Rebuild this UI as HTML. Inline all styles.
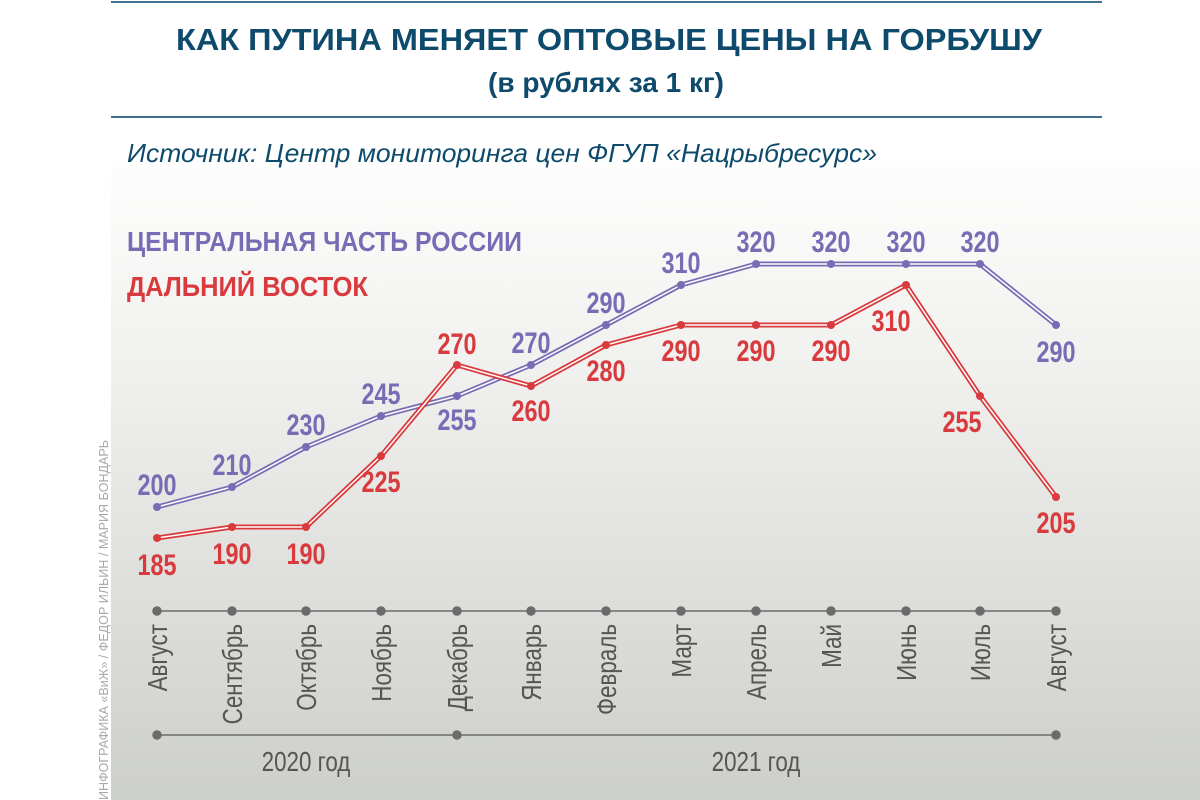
<!DOCTYPE html>
<html><head><meta charset="utf-8"><style>
body{margin:0;width:1200px;height:800px;overflow:hidden;background:#fff}
svg{display:block}
</style></head><body>
<svg width="1200" height="800" xmlns="http://www.w3.org/2000/svg">
<defs>
<linearGradient id="bg" x1="0" y1="0" x2="0" y2="1">
<stop offset="0" stop-color="#ffffff"/><stop offset="0.35" stop-color="#f0f0ee"/><stop offset="1" stop-color="#cdcfca"/>
</linearGradient>
</defs>
<rect x="0" y="0" width="1200" height="800" fill="#fff"/>
<rect x="111" y="140" width="1089" height="660" fill="url(#bg)"/>
<rect x="111" y="118" width="1089" height="50" fill="#fff" opacity="0.6"/>
<line x1="111" y1="2" x2="1102" y2="2" stroke="#3f7190" stroke-width="2"/>
<line x1="111" y1="117" x2="1102" y2="117" stroke="#3f7190" stroke-width="2"/>
<g font-family="Liberation Sans, sans-serif" font-weight="bold" fill="#0d4a6b" text-anchor="middle">
<text x="609" y="50" font-size="31" textLength="866" lengthAdjust="spacingAndGlyphs">КАК ПУТИНА МЕНЯЕТ ОПТОВЫЕ ЦЕНЫ НА ГОРБУШУ</text>
<text x="606" y="92" font-size="28">(в рублях за 1 кг)</text>
</g>
<text x="127" y="162" font-family="Liberation Sans, sans-serif" font-style="italic" font-size="26" fill="#0d4a6b" textLength="750" lengthAdjust="spacingAndGlyphs">Источник: Центр мониторинга цен ФГУП «Нацрыбресурс»</text>
<g font-family="Liberation Sans, sans-serif" font-weight="bold" font-size="28">
<text x="127" y="251" fill="#7a6bb5" textLength="395" lengthAdjust="spacingAndGlyphs">ЦЕНТРАЛЬНАЯ ЧАСТЬ РОССИИ</text>
<text x="127" y="296" fill="#d93a3d" textLength="241" lengthAdjust="spacingAndGlyphs">ДАЛЬНИЙ ВОСТОК</text>
</g>
<text transform="translate(108,800) rotate(-90)" font-family="Liberation Sans, sans-serif" font-size="13" fill="#aaa" textLength="360" lengthAdjust="spacingAndGlyphs">ИНФОГРАФИКА «ВиЖ» / ФЕДОР ИЛЬИН / МАРИЯ БОНДАРЬ</text>
<g stroke="#6b6b6b" stroke-width="1.5" fill="#6b6b6b">
<line x1="157" y1="611" x2="1056" y2="611"/>
<line x1="157" y1="735" x2="1056" y2="735"/>
<circle cx="157" cy="611" r="4"/><circle cx="232" cy="611" r="4"/><circle cx="306" cy="611" r="4"/><circle cx="381" cy="611" r="4"/><circle cx="457" cy="611" r="4"/><circle cx="531" cy="611" r="4"/><circle cx="606" cy="611" r="4"/><circle cx="681" cy="611" r="4"/><circle cx="756" cy="611" r="4"/><circle cx="831" cy="611" r="4"/><circle cx="906" cy="611" r="4"/><circle cx="980" cy="611" r="4"/><circle cx="1056" cy="611" r="4"/>
<circle cx="157" cy="735" r="4"/><circle cx="457" cy="735" r="4"/><circle cx="1056" cy="735" r="4"/>
</g>
<g font-family="Liberation Sans, sans-serif" font-size="28" fill="#555" text-anchor="end">
<text transform="translate(167,624) rotate(-90) scale(0.8,1)">Август</text>
<text transform="translate(242,624) rotate(-90) scale(0.8,1)">Сентябрь</text>
<text transform="translate(316,624) rotate(-90) scale(0.8,1)">Октябрь</text>
<text transform="translate(391,624) rotate(-90) scale(0.8,1)">Ноябрь</text>
<text transform="translate(467,624) rotate(-90) scale(0.8,1)">Декабрь</text>
<text transform="translate(541,624) rotate(-90) scale(0.8,1)">Январь</text>
<text transform="translate(616,624) rotate(-90) scale(0.8,1)">Февраль</text>
<text transform="translate(691,624) rotate(-90) scale(0.8,1)">Март</text>
<text transform="translate(766,624) rotate(-90) scale(0.8,1)">Апрель</text>
<text transform="translate(841,624) rotate(-90) scale(0.8,1)">Май</text>
<text transform="translate(916,624) rotate(-90) scale(0.8,1)">Июнь</text>
<text transform="translate(990,624) rotate(-90) scale(0.8,1)">Июль</text>
<text transform="translate(1066,624) rotate(-90) scale(0.8,1)">Август</text>
</g>
<g font-family="Liberation Sans, sans-serif" font-size="28" fill="#555" text-anchor="middle">
<text transform="translate(306,771) scale(0.8,1)">2020 год</text>
<text transform="translate(756,771) scale(0.8,1)">2021 год</text>
</g>
<polyline points="157,507 232,487 306,447 381,416 457,396 531,365 606,325 681,285 756,264 831,264 906,264 980,264 1056,325" fill="none" stroke="#7a6bb5" stroke-width="5" stroke-linejoin="round"/>
<polyline points="157,507 232,487 306,447 381,416 457,396 531,365 606,325 681,285 756,264 831,264 906,264 980,264 1056,325" fill="none" stroke="#fff" stroke-width="1.5" stroke-linejoin="round"/>
<g fill="#7a6bb5">
<circle cx="157" cy="507" r="4"/><circle cx="232" cy="487" r="4"/><circle cx="306" cy="447" r="4"/><circle cx="381" cy="416" r="4"/><circle cx="457" cy="396" r="4"/><circle cx="531" cy="365" r="4"/><circle cx="606" cy="325" r="4"/><circle cx="681" cy="285" r="4"/><circle cx="756" cy="264" r="4"/><circle cx="831" cy="264" r="4"/><circle cx="906" cy="264" r="4"/><circle cx="980" cy="264" r="4"/><circle cx="1056" cy="325" r="4"/>
</g>
<polyline points="157,538 232,527 306,527 381,456 457,365 531,386 606,345 681,325 756,325 831,325 906,285 980,396 1056,497" fill="none" stroke="#d93a3d" stroke-width="5" stroke-linejoin="round"/>
<polyline points="157,538 232,527 306,527 381,456 457,365 531,386 606,345 681,325 756,325 831,325 906,285 980,396 1056,497" fill="none" stroke="#fff" stroke-width="1.5" stroke-linejoin="round"/>
<g fill="#d93a3d">
<circle cx="157" cy="538" r="4"/><circle cx="232" cy="527" r="4"/><circle cx="306" cy="527" r="4"/><circle cx="381" cy="456" r="4"/><circle cx="457" cy="365" r="4"/><circle cx="531" cy="386" r="4"/><circle cx="606" cy="345" r="4"/><circle cx="681" cy="325" r="4"/><circle cx="756" cy="325" r="4"/><circle cx="831" cy="325" r="4"/><circle cx="906" cy="285" r="4"/><circle cx="980" cy="396" r="4"/><circle cx="1056" cy="497" r="4"/>
</g>
<g font-family="Liberation Sans, sans-serif" font-weight="bold" font-size="30" text-anchor="middle" fill="#7a6bb5">
<text transform="translate(157,495) scale(0.78,1)">200</text><text transform="translate(232,475) scale(0.78,1)">210</text><text transform="translate(306,435) scale(0.78,1)">230</text><text transform="translate(381,404) scale(0.78,1)">245</text><text transform="translate(457,430) scale(0.78,1)">255</text><text transform="translate(531,353) scale(0.78,1)">270</text><text transform="translate(606,313) scale(0.78,1)">290</text><text transform="translate(681,273) scale(0.78,1)">310</text><text transform="translate(756,252) scale(0.78,1)">320</text><text transform="translate(831,252) scale(0.78,1)">320</text><text transform="translate(906,252) scale(0.78,1)">320</text><text transform="translate(980,252) scale(0.78,1)">320</text><text transform="translate(1056,362) scale(0.78,1)">290</text>
</g>
<g font-family="Liberation Sans, sans-serif" font-weight="bold" font-size="30" text-anchor="middle" fill="#d93a3d">
<text transform="translate(157,575) scale(0.78,1)">185</text><text transform="translate(232,564) scale(0.78,1)">190</text><text transform="translate(306,564) scale(0.78,1)">190</text><text transform="translate(381,492) scale(0.78,1)">225</text><text transform="translate(457,354) scale(0.78,1)">270</text><text transform="translate(531,421) scale(0.78,1)">260</text><text transform="translate(606,381) scale(0.78,1)">280</text><text transform="translate(681,361) scale(0.78,1)">290</text><text transform="translate(756,361) scale(0.78,1)">290</text><text transform="translate(831,361) scale(0.78,1)">290</text><text transform="translate(891,331) scale(0.78,1)">310</text><text transform="translate(962,432) scale(0.78,1)">255</text><text transform="translate(1056,533) scale(0.78,1)">205</text>
</g>
</svg>
</body></html>
